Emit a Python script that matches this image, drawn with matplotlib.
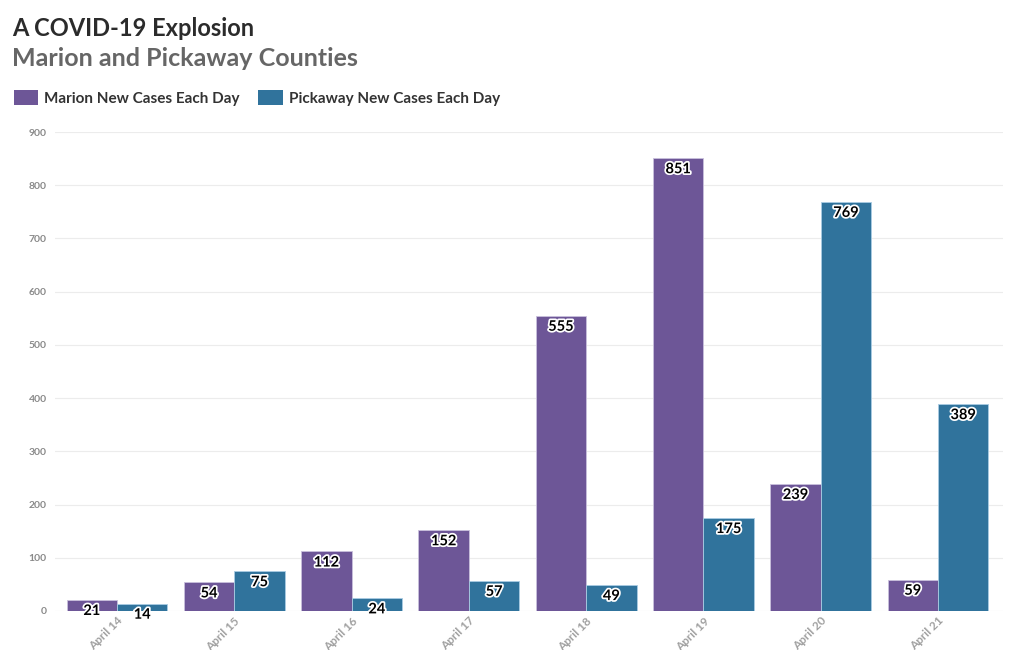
import numpy as np
import matplotlib.pyplot as plt
import matplotlib.patheffects as pe
from matplotlib.patches import Patch

days = ["April 14", "April 15", "April 16", "April 17", "April 18", "April 19", "April 20", "April 21"]
marion = [21, 54, 112, 152, 555, 851, 239, 59]
pickaway = [14, 75, 24, 57, 49, 175, 769, 389]

purple = "#6d5697"
blue = "#30739c"

plt.rcParams['font.family'] = ['Lato', 'DejaVu Sans']

fig = plt.figure(figsize=(10.22, 6.5), dpi=100)
ax = fig.add_axes([55 / 1022, 39 / 650, (1003 - 55) / 1022, (611 - 132) / 650])

x = np.arange(len(days))
w = 0.43
b1 = ax.bar(x - w / 2, marion, w, color=purple, edgecolor="#c9c0dc", linewidth=0.6, zorder=2)
b2 = ax.bar(x + w / 2, pickaway, w, color=blue, edgecolor="#a9cce3", linewidth=0.6, zorder=2)

# value labels just under the bar tops
outline = [pe.withStroke(linewidth=2.5, foreground="white")]
for bars, vals in ((b1, marion), (b2, pickaway)):
    for r, v in zip(bars, vals):
        ax.annotate(str(v), (r.get_x() + r.get_width() / 2, v), xytext=(0, -3),
                    textcoords="offset points", ha="center", va="top",
                    fontsize=10.5, fontweight="bold", color="black",
                    path_effects=outline, zorder=3, annotation_clip=False)

ax.set_xlim(-0.529, 7.554)
ax.set_ylim(0, 900)
ax.set_yticks(range(0, 901, 100))
ax.set_xticks(x)
ax.set_xticklabels(days, rotation=45, ha="right", rotation_mode="anchor")
ax.tick_params(axis="y", length=0, labelsize=7.5, colors="#8a8a8a", pad=6)
ax.tick_params(axis="x", length=0, labelsize=8.5, colors="#a0a0a0", pad=3)
for lbl in ax.get_xticklabels() + ax.get_yticklabels():
    lbl.set_fontweight("bold")
ax.grid(axis="y", color="#ececec", linewidth=0.8, zorder=0)
for s in ax.spines.values():
    s.set_visible(False)

fig.text(12 / 1022, 1 - 28 / 650, "A COVID-19 Explosion", fontsize=17,
         fontweight="bold", color="#2b2b2b", va="center")
fig.text(12 / 1022, 1 - 58 / 650, "Marion and Pickaway Counties", fontsize=18,
         fontweight="bold", color="#666666", va="center")

handles = [Patch(facecolor=purple, label="Marion New Cases Each Day"),
           Patch(facecolor=blue, label="Pickaway New Cases Each Day")]
fig.legend(handles=handles, loc="center left", bbox_to_anchor=(0 / 1022, 1 - 98 / 650),
           ncol=2, frameon=False, handlelength=1.6, handleheight=1.1,
           handletextpad=0.4, columnspacing=1.2, prop={"weight": "bold", "size": 11})
for t in fig.legends[0].get_texts():
    t.set_color("#333333")

fig.savefig("out.png", dpi=100)
